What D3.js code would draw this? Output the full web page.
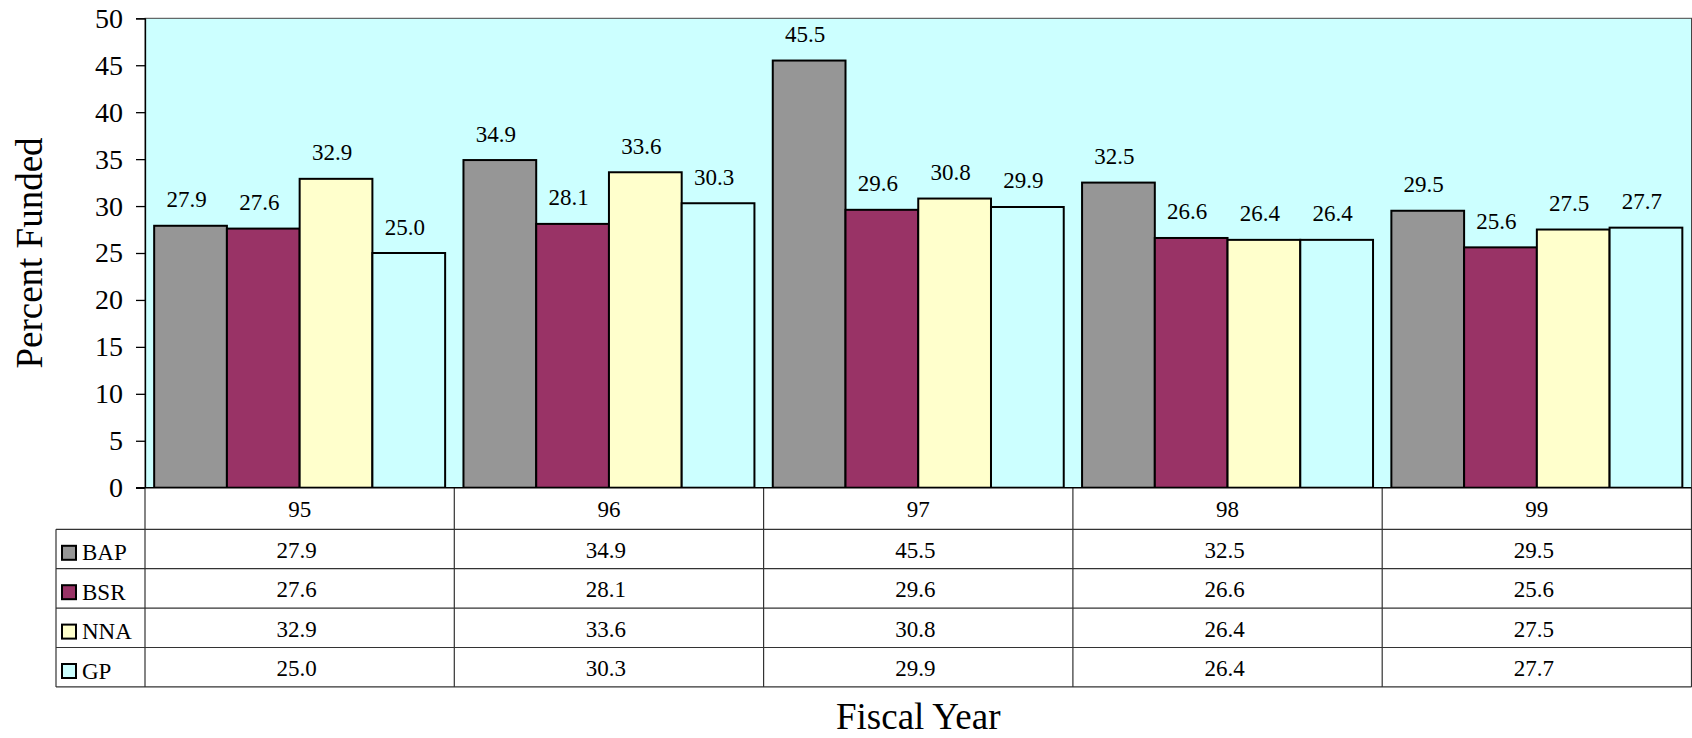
<!DOCTYPE html>
<html>
<head>
<meta charset="utf-8">
<script src="https://cdn.jsdelivr.net/npm/d3@7"></script>
<style>
  html, body { margin: 0; padding: 0; background: #ffffff; }
  svg { display: block; }
  svg text { font-family: "Liberation Serif", "Times New Roman", serif !important; fill: #000; }
</style>
</head>
<body>
<svg id="chart" width="1692" height="738"></svg>
<script>
// ---- Data ----
const categories = ["95", "96", "97", "98", "99"];
const seriesNames = ["BAP", "BSR", "NNA", "GP"];
const bapValues = [27.9, 34.9, 45.5, 32.5, 29.5];
const bsrValues = [27.6, 28.1, 29.6, 26.6, 25.6];
const nnaValues = [32.9, 33.6, 30.8, 26.4, 27.5];
const gpValues  = [25.0, 30.3, 29.9, 26.4, 27.7];
const yTickValues = [0, 5, 10, 15, 20, 25, 30, 35, 40, 45, 50];
const seriesColors = ["#969696", "#993366", "#FFFFCC", "#CCFFFF"];

const seriesValues = [bapValues, bsrValues, nnaValues, gpValues];
const series = seriesNames.map((name, i) => ({ name, values: seriesValues[i], color: seriesColors[i] }));

const FONT = "'Liberation Serif', 'Times New Roman', serif";

// ---- Layout ----
const svg = d3.select("#chart");
const plotLeft = 145, plotRight = 1691.5, plotTop = 18.3, plotBottom = 487.7;
const headerH = 41.6, rowH = 39.4, legendLeft = 56;

const x = d3.scaleBand().domain(categories).range([plotLeft, plotRight]).paddingInner(0).paddingOuter(0);
const xs = d3.scaleBand().domain(seriesNames).range([0, x.bandwidth()]).paddingInner(0).paddingOuter(0.126);
const y = d3.scaleLinear().domain([0, 50]).range([plotBottom, plotTop]);

// plot background
svg.append("rect")
  .attr("x", plotLeft).attr("y", plotTop)
  .attr("width", plotRight - plotLeft).attr("height", plotBottom - plotTop)
  .attr("fill", "#CCFFFF").attr("stroke", "#444").attr("stroke-width", 1);

// bars
const groups = svg.append("g").selectAll("g")
  .data(categories).join("g")
  .attr("transform", d => `translate(${x(d)},0)`);

groups.selectAll("rect")
  .data((c, ci) => series.map(s => ({ name: s.name, value: s.values[ci], color: s.color })))
  .join("rect")
  .attr("x", d => xs(d.name))
  .attr("y", d => y(d.value))
  .attr("width", xs.bandwidth())
  .attr("height", d => y(0) - y(d.value))
  .attr("fill", d => d.color)
  .attr("stroke", "#000")
  .attr("stroke-width", 2);

// value labels
groups.selectAll("text.val")
  .data((c, ci) => series.map(s => ({ name: s.name, value: s.values[ci] })))
  .join("text")
  .attr("class", "val")
  .attr("x", d => xs(d.name) + xs.bandwidth() / 2 - 4)
  .attr("y", d => y(d.value) - 18.5)
  .attr("text-anchor", "middle")
  .attr("font-family", FONT)
  .attr("font-size", 23)
  .text(d => d.value.toFixed(1));

// y axis
const yAxis = d3.axisLeft(y).tickValues(yTickValues).tickSize(9).tickPadding(13).tickFormat(d3.format("d"));
const yg = svg.append("g").attr("transform", `translate(${plotLeft},0)`).call(yAxis);
yg.attr("font-family", FONT);
yg.select(".domain").attr("stroke", "#000").attr("stroke-width", 1.3);
yg.selectAll(".tick line").attr("stroke", "#000").attr("stroke-width", 1.3);
yg.selectAll(".tick text")
  .attr("font-family", FONT)
  .attr("font-size", 28).attr("fill", "#000");

// ---- Data table ----
const tableTop = plotBottom;
const rowsTop = tableTop + headerH;
const tableBottom = rowsTop + rowH * series.length;
const table = svg.append("g").attr("font-family", FONT);

table.append("rect")
  .attr("x", plotLeft).attr("y", tableTop)
  .attr("width", plotRight - plotLeft).attr("height", headerH)
  .attr("fill", "#fff");

// horizontal lines
const hLines = [rowsTop].concat(series.map((s, i) => rowsTop + rowH * (i + 1)));
table.selectAll("line.h").data(hLines).join("line")
  .attr("x1", legendLeft).attr("x2", plotRight)
  .attr("y1", d => d).attr("y2", d => d)
  .attr("stroke", "#333").attr("stroke-width", 1.2);

// vertical lines at category boundaries
const vLines = categories.map(c => x(c)).concat([plotRight]);
table.selectAll("line.v").data(vLines).join("line")
  .attr("x1", d => d).attr("x2", d => d)
  .attr("y1", tableTop).attr("y2", tableBottom)
  .attr("stroke", "#333").attr("stroke-width", 1.2);

table.append("line")
  .attr("x1", legendLeft).attr("x2", legendLeft)
  .attr("y1", rowsTop).attr("y2", tableBottom)
  .attr("stroke", "#333").attr("stroke-width", 1.2);

// zero baseline
svg.append("line")
  .attr("x1", plotLeft - 9).attr("x2", plotRight)
  .attr("y1", y(0)).attr("y2", y(0))
  .attr("stroke", "#000").attr("stroke-width", 1.5);

// category header labels
table.selectAll("text.cat").data(categories).join("text")
  .attr("x", d => x(d) + x.bandwidth() / 2)
  .attr("y", tableTop + 29)
  .attr("text-anchor", "middle")
  .attr("font-family", FONT)
  .attr("font-size", 23)
  .text(d => d);

// rows
const rows = table.selectAll("g.row").data(series).join("g")
  .attr("transform", (d, i) => `translate(0,${rowsTop + rowH * i})`);

rows.append("rect")
  .attr("x", 62).attr("y", 16.5).attr("width", 14).attr("height", 14)
  .attr("fill", d => d.color).attr("stroke", "#000").attr("stroke-width", 2);

rows.append("text")
  .attr("x", 82).attr("y", 31)
  .attr("font-family", FONT)
  .attr("font-size", 23)
  .text(d => d.name);

rows.selectAll("text.cell")
  .data(d => d.values.map((v, ci) => ({ v, c: categories[ci] })))
  .join("text")
  .attr("x", d => x(d.c) + x.bandwidth() / 2 - 3)
  .attr("y", 28.5)
  .attr("text-anchor", "middle")
  .attr("font-family", FONT)
  .attr("font-size", 23)
  .text(d => d.v.toFixed(1));

// axis titles
svg.append("text")
  .attr("transform", `translate(41.5,${(plotTop + plotBottom) / 2}) rotate(-90)`)
  .attr("text-anchor", "middle")
  .attr("font-family", FONT)
  .attr("font-size", 37)
  .text("Percent Funded");

svg.append("text")
  .attr("x", (plotLeft + plotRight) / 2)
  .attr("y", 729)
  .attr("text-anchor", "middle")
  .attr("font-family", FONT)
  .attr("font-size", 37)
  .text("Fiscal Year");
</script>
</body>
</html>
